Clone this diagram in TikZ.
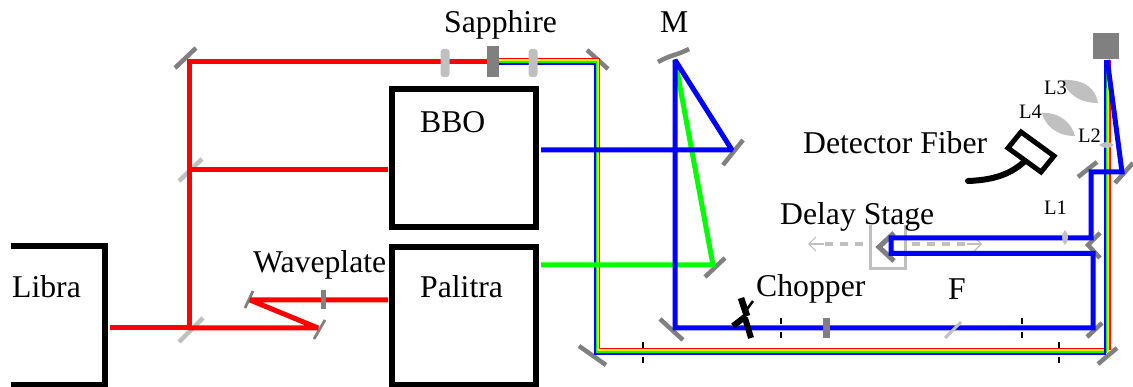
\documentclass[tikz,border=0pt]{standalone}
\usepackage{fontspec}
\setmainfont{Liberation Serif}
\usetikzlibrary{arrows.meta}
\definecolor{mirrorgray}{HTML}{808080}
\definecolor{lensgray}{HTML}{C0C0C0}
\definecolor{beamgreen}{HTML}{00FF00}
\tikzset{
  boxline/.style={line width=6pt,black,line join=miter},
  redbeam/.style={line width=5pt,red,line join=miter,miter limit=2},
  bluebeam/.style={line width=5pt,blue,line join=miter,miter limit=2},
  greenbeam/.style={line width=5pt,beamgreen,line join=miter,miter limit=2},
  mirror/.style={line width=4.5pt,mirrorgray},
  thinmirror/.style={line width=2.8pt,mirrorgray},
  splitter/.style={line width=4.5pt,lensgray},
  iris/.style={line width=2.6pt,black},
  lab/.style={anchor=base west,inner sep=0pt,font=\fontsize{31.7}{32}\selectfont},
  smalllab/.style={anchor=base west,inner sep=0pt,font=\fontsize{20.5}{20.5}\selectfont},
  travel/.style={line width=4pt,lensgray,dash pattern=on 8pt off 7pt},
  travelhead/.style={line width=1.2pt,lensgray,-{Straight Barb[length=7pt,width=14pt]}}
}
\begin{document}
\begin{tikzpicture}[x=1pt,y=-1pt]
\useasboundingbox (0,0) rectangle (1133,387);
% beam points
\coordinate (librao) at (110,328);
\coordinate (bsb) at (189,328);
\coordinate (bsa) at (189,170);
\coordinate (topm) at (189,62);
\coordinate (wpin) at (318,328);
\coordinate (wpout) at (250,300);
\coordinate (palin) at (388,300);
\coordinate (bboin) at (388,170);
\coordinate (sapphire) at (493,62);
\coordinate (sappho) at (499,61.25);
\coordinate (ca) at (597,61.25);
\coordinate (cb) at (597,351.25);
\coordinate (cc) at (1107.25,351.25);
\coordinate (cd) at (1107.25,60);
\coordinate (ce) at (1107.25,88);
\coordinate (bboo) at (541,150);
\coordinate (palo) at (541,265);
\coordinate (mb) at (732,150);
\coordinate (mg) at (713,265);
\coordinate (mm) at (675,60);
\coordinate (md) at (675,328);
\coordinate (me) at (1093,328);
\coordinate (mf) at (1093,253.5);
\coordinate (dl) at (891,253.5);
\coordinate (dm) at (891,238);
\coordinate (mh) at (1091,238);
\coordinate (mi) at (1091,172);
\coordinate (mj) at (1122,172);
% boxes
\draw[boxline] (11,246) -- (105,246) -- (105,385) -- (11,385);
\draw[boxline] (392,89) rectangle (536,227);
\draw[boxline] (392,247) rectangle (536,385);
% mirrors
\draw[mirror] (175,68) -- (196,48);
\draw[splitter] (179,181) -- (202,159);
\draw[splitter] (179,342) -- (203,318);
\draw[thinmirror] (245,308) -- (253,291);
\draw[thinmirror] (314,339) -- (325,320);
\draw[mirror] (587,50) -- (608,69);
\draw[mirror] (579,346) -- (606,365);
\draw[mirror] (658,62) .. controls (670,55) and (678,55) .. (689,49);
\draw[mirror] (723,165) -- (743,140);
\draw[mirror] (705,277) -- (725,258);
\draw[mirror] (660,319) -- (683,340);
\draw[mirror] (1087,337) -- (1102,323);
\draw[mirror] (1098,364) -- (1117,348);
\draw[mirror] (1078,177) -- (1097,162);
\draw[mirror] (1115,183) -- (1133,163);
\draw[mirror] (1100,233) -- (1088,245) -- (1100,258);
% delay stage
\draw[line width=3pt,lensgray] (870,225) -- (870,269) -- (905,269) -- (905,225);
\draw[travel] (863,244) -- (824,244);
\draw[travelhead] (824,244) -- (808,244);
\draw[travel] (912,244) -- (967,244);
\draw[travelhead] (967,244) -- (982,244);
\draw[line width=5pt,mirrorgray] (894,233) -- (879,247) -- (894,261);
% white light
\foreach \col/\off in {red/2.4,yellow/0.8,beamgreen/-0.8,blue/-2.4}
  \draw[line width=1.9pt,\col,line join=miter]
    ([shift={(0pt,\off pt)}]sappho) -- ([shift={(\off pt,\off pt)}]ca)
    -- ([shift={(\off pt,\off pt)}]cb) -- ([shift={(\off pt,\off pt)}]cc)
    -- ([shift={(\off pt,0pt)}]cd);
\draw[line width=1.9pt,beamgreen!70!black] ([xshift=-0.8pt]cd) -- ([xshift=-0.8pt]ce);
% laser beams
\draw[redbeam] (librao) -- (bsb) -- (topm) -- (sapphire);
\draw[redbeam] (bsa) -- (bboin);
\draw[redbeam] (bsb) -- (wpin) -- (wpout) -- (palin);
\draw[greenbeam] (palo) -- (mg) -- (mm);
\draw[bluebeam] (bboo) -- (mb) -- (mm) -- (md) -- (me) -- (mf) -- (dl) -- (dm) -- (mh) -- (mi) -- (mj) -- (cd);
% optics on the beams
\draw[thinmirror,line width=5pt] (323.5,290) -- (323.5,309);
\fill[lensgray,rounded corners=3pt] (440.5,49) rectangle (449.5,77);
\fill[lensgray,rounded corners=3pt] (528.5,49) rectangle (537.5,77);
\fill[mirrorgray] (487,46) rectangle (499,77);
\fill[mirrorgray] (1093,33) rectangle (1119,59);
\fill[mirrorgray] (823,318) rectangle (830,338);
\draw[line width=3pt,lensgray] (945,338) -- (961,322);
\fill[lensgray] (1099,145) .. controls (1104,141) and (1110,141) .. (1114,145) .. controls (1110,149) and (1104,149) .. (1099,145);
\fill[lensgray] (1065,230) .. controls (1069,235) and (1069,240) .. (1065,245) .. controls (1061,240) and (1061,235) .. (1065,230);
\fill[lensgray] (1063,80) .. controls (1086,79) and (1096,90) .. (1098,103) .. controls (1078,103) and (1066,92) .. (1063,80);
\fill[lensgray] (1042,113) .. controls (1062,112) and (1072,125) .. (1075,136) .. controls (1056,136) and (1045,125) .. (1042,113);
% irises
\foreach \irisx in {781,1022} {
  \draw[iris] (\irisx,318) -- (\irisx,324);
  \draw[iris] (\irisx,332) -- (\irisx,338);
}
\foreach \irisx in {643,1059} {
  \draw[iris] (\irisx,342) -- (\irisx,348);
  \draw[iris] (\irisx,357) -- (\irisx,363);
}
% chopper
\draw[black,line width=6.5pt] (741,298) -- (747,316);
\draw[black,line width=2.5pt] (745,312) -- (753,301);
\draw[black,line width=6pt] (733,326) -- (746,316);
\draw[black,line width=6pt] (745,318) -- (751,338);
% detector
\draw[line width=5pt,black,line join=miter] (1021,132) -- (1054,156) -- (1041,172) -- (1008,148) -- cycle;
\draw[line width=6pt,black,line cap=round] (1025,161) .. controls (1012,173) and (996,180) .. (968,181);
% labels
\node[lab] (librat) at (12,298) {Libra};
\node[lab] (bbot) at (420,133) {BBO};
\node[lab] (palitrat) at (420,298) {Palitra};
\node[lab] (wavet) at (253,273) {Waveplate};
\node[lab] (sapphiret) at (444,33) {Sapphire};
\node[lab] (mt) at (660,33) {M};
\node[lab] (detectort) at (803,154) {Detector Fiber};
\node[lab] (delayt) at (780,225) {Delay Stage};
\node[lab] (choppert) at (756,297) {Chopper};
\node[lab] (ft) at (948,300) {F};
\node[smalllab] (lat) at (1044,215) {L1};
\node[smalllab] (lbt) at (1078,143) {L2};
\node[smalllab] (lct) at (1044,95) {L3};
\node[smalllab] (ldt) at (1019,119) {L4};
\end{tikzpicture}
\end{document}
